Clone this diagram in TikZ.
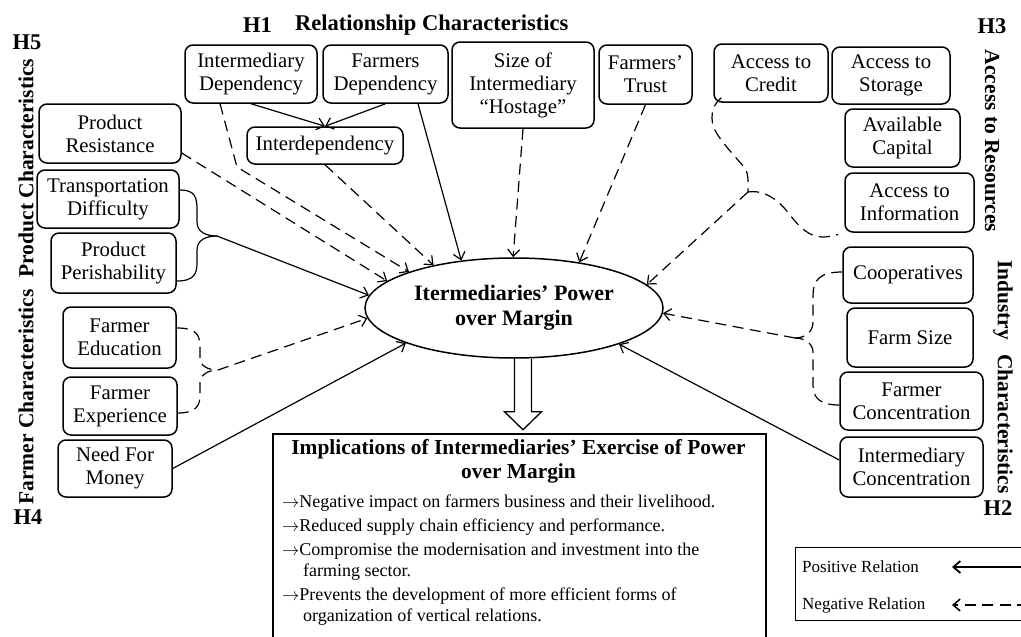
\documentclass[tikz,border=0pt]{standalone}
\usepackage{fontspec}
\setmainfont{Liberation Serif}
\usetikzlibrary{arrows, arrows.meta}
\usetikzlibrary{calc}
\usetikzlibrary{shapes.geometric}

\tikzset{
  factor/.style={draw, rounded corners=8pt, line width=1.5pt, inner sep=0pt, align=center, font=\fontsize{20.8}{23}\selectfont},
  posrel/.style={line width=1.2pt, -{Straight Barb[length=7pt,width=12pt]}},
  negrel/.style={posrel, dash pattern=on 11pt off 6.5pt},
  brace/.style={line width=1.2pt},
  dbrace/.style={brace, dash pattern=on 11pt off 6.5pt},
  grouplabel/.style={inner sep=0pt, font=\fontsize{22.5}{24}\selectfont\bfseries},
  sidelabel/.style={grouplabel, font=\fontsize{21.5}{24}\selectfont\bfseries},
  timestext/.style={inner sep=0pt, font=\fontsize{18}{21}\selectfont}
}

\begin{document}
\begin{tikzpicture}[x=1pt, y=-1pt]
      \useasboundingbox (0,0) rectangle (1021,637);
      \clip (0,0) rectangle (1021,637);
      \fill[white] (0,0) rectangle (1021,637);

      % group labels
      \node[grouplabel, anchor=west] (h1) at (243,25) {H1};
      \node[grouplabel, anchor=west] (trel) at (295,25) {Relationship Characteristics};
      \node[grouplabel] (h5) at (27,42) {H5};
      \node[grouplabel] (h4) at (28,517) {H4};
      \node[grouplabel] (h3) at (992,26) {H3};
      \node[grouplabel] (h2) at (998,508) {H2};
      \node[sidelabel, rotate=90] (tprod) at (26,168) {Product Characteristics};
      \node[sidelabel, rotate=90] (tfarm) at (26,397) {Farmer Characteristics};
      \node[sidelabel, rotate=-90] (tacc) at (992,141) {Access to Resources};
      \node[sidelabel, rotate=-90] (tind) at (1003,377) {Industry\hspace{14pt}Characteristics};

      % left column
      \node[factor, minimum width=142, minimum height=59] (pres) at (110,133.5) {Product\\Resistance};
      \node[factor, minimum width=142, minimum height=58] (trans) at (108,199) {Transportation\\Difficulty};
      \node[factor, minimum width=125, minimum height=60] (peri) at (113.5,263) {Product\\Perishability};
      \node[factor, minimum width=113, minimum height=61] (fedu) at (119.5,337.5) {Farmer\\Education};
      \node[factor, minimum width=114, minimum height=58] (fexp) at (120,406) {Farmer\\Experience};
      \node[factor, minimum width=114, minimum height=57] (need) at (115,468.5) {Need For\\Money};

      % top row
      \node[factor, minimum width=132, minimum height=58] (idep) at (251,74) {Intermediary\\Dependency};
      \node[factor, minimum width=125, minimum height=58] (fdep) at (385.5,74) {Farmers\\Dependency};
      \node[factor, minimum width=156, minimum height=37] (inter) at (325,145.5) {Interdependency};
      \node[factor, minimum width=142, minimum height=86] (host) at (523,85) {Size of\\Intermediary\\``Hostage''};
      \node[factor, minimum width=93, minimum height=59] (trust) at (645.5,74.5) {Farmers'\\Trust};
      \node[factor, minimum width=114, minimum height=58] (cred) at (771,73) {Access to\\Credit};
      \node[factor, minimum width=118, minimum height=57] (stor) at (891,75.5) {Access to\\Storage};

      % right column
      \node[factor, minimum width=115, minimum height=58] (capi) at (902.5,138) {Available\\Capital};
      \node[factor, minimum width=129, minimum height=59] (info) at (909.5,202.5) {Access to\\Information};
      \node[factor, minimum width=130, minimum height=56] (coop) at (908,275) {Cooperatives};
      \node[factor, minimum width=126, minimum height=59] (fsize) at (910,337.5) {Farm Size};
      \node[factor, minimum width=143, minimum height=58] (fconc) at (911.5,401) {Farmer\\Concentration};
      \node[factor, minimum width=143, minimum height=60] (iconc) at (911.5,467) {Intermediary\\Concentration};

      % centre
      \node[draw, ellipse, line width=1.5pt, minimum width=298, minimum height=100, inner sep=0pt, align=center,
            font=\fontsize{22}{25}\selectfont\bfseries] (power) at (514,308) {Itermediaries' Power\\over Margin};

      \node[draw, line width=2pt, minimum width=493, minimum height=230, inner sep=0pt, anchor=north west] (impl) at (272,433) {};
      \node[anchor=north, align=center, inner sep=0pt, font=\fontsize{21.4}{24}\selectfont\bfseries] (ihead) at (518.5,439)
            {Implications of Intermediaries' Exercise of Power\\over Margin};
      \node[timestext, anchor=north west, align=left] (ilist) at (282,495)
            {$\rightarrow$Negative impact on farmers business and their livelihood.\\[3pt]
             $\rightarrow$Reduced supply chain efficiency and performance.\\[3pt]
             $\rightarrow$Compromise the modernisation and investment into the\\
             \hspace*{21pt}farming sector.\\[3pt]
             $\rightarrow$Prevents the development of more efficient forms of\\
             \hspace*{21pt}organization of vertical relations.};

      \draw[line width=1.3pt] ([xshift=0.5pt]power.south) -- ++(0,53) -- ++(-10,0) -- ++(18.5,18) -- ++(18.5,-18) -- ++(-10,0) -- ([xshift=17.5pt]power.south);

      % junctions
      \coordinate (jprod) at (217,236);
      \coordinate (jfarm) at (218,370);
      \coordinate (jacc) at (748,192);
      \coordinate (jind) at (795,338);
      \coordinate (bid) at (237,167);

      % relationship
      \draw[posrel] (idep.south) -- (inter.north);
      \draw[posrel] (fdep.south) -- (inter.north);
      \draw[negrel] (220,0 |- idep.south) -- (bid) -- (power.161);
      \draw[negrel] (inter.south) -- (power.152);
      \draw[posrel] (418,0 |- fdep.south) -- (power.138);
      \draw[negrel] (host.south) -- (power.91);
      \draw[negrel] (trust.south) -- (power.35);

      % product
      \draw[negrel] (pres.east |- 0,153) -- (power.168);
      \draw[brace] (trans.east |- 0,190) .. controls (195,190) and (197,197) .. (197,210) -- (197,222) .. controls (197,232) and (206,236) .. (jprod);
      \draw[brace] (peri.east |- 0,281) .. controls (195,281) and (197,273) .. (197,262) -- (197,250) .. controls (197,240) and (206,236) .. (jprod);
      \draw[posrel] (jprod) -- (power.175);

      % farmer
      \draw[dbrace] (fedu.east |- 0,328) .. controls (197,328) and (200,335) .. (200,348) -- (200,358) .. controls (200,366) and (208,370) .. (jfarm);
      \draw[dbrace] (fexp.east |- 0,413) .. controls (197,413) and (200,405) .. (200,395) -- (200,383) .. controls (200,375) and (208,370) .. (jfarm);
      \draw[negrel] (jfarm) -- (power.184);
      \draw[posrel] (need.east) -- (power.198);

      % resources
      \draw[dbrace] ($(cred.south west)+(8,-5)$) .. controls (713,105) and (712,112) .. (712,118) .. controls (712,130) and (720,140) .. (745,168) .. controls (749,175) and (748,185) .. (jacc);
      \draw[dbrace] (jacc) .. controls (760,190) and (775,195) .. (790,215) .. controls (800,228) and (810,237) .. (822,237) .. controls (832,237) and (836,234) .. ($(info.south west)+(-6,2)$);
      \draw[negrel] (jacc) -- (power.10);

      % industry
      \draw[dbrace] (coop.west |- 0,272) .. controls (820,272) and (813,280) .. (813,295) -- (813,322) .. controls (813,332) and (805,338) .. (jind);
      \draw[dbrace] (fconc.west |- 0,405) .. controls (820,405) and (813,398) .. (813,385) -- (813,352) .. controls (813,344) and (805,338) .. (jind);
      \draw[negrel] (jind) -- (power.358);
      \draw[posrel] (iconc.west |- 0,460) -- (power.341);

      % legend
      \node[draw, line width=0.8pt, minimum width=250, minimum height=73, inner sep=0pt, anchor=north west] (legend) at (795,547) {};
      \node[timestext, anchor=west, font=\fontsize{17}{18}\selectfont] (lpos) at (802,567) {Positive Relation};
      \node[timestext, anchor=west, font=\fontsize{17}{18}\selectfont] (lneg) at (802,605) {Negative Relation};
      \coordinate (pa) at (952,567);
      \coordinate (na) at (952,605);
      \draw[posrel, line width=1.8pt] (legend.east |- pa) -- (pa);
      \draw[negrel, line width=1.5pt] (legend.east |- na) -- (na);
\end{tikzpicture}
\end{document}
